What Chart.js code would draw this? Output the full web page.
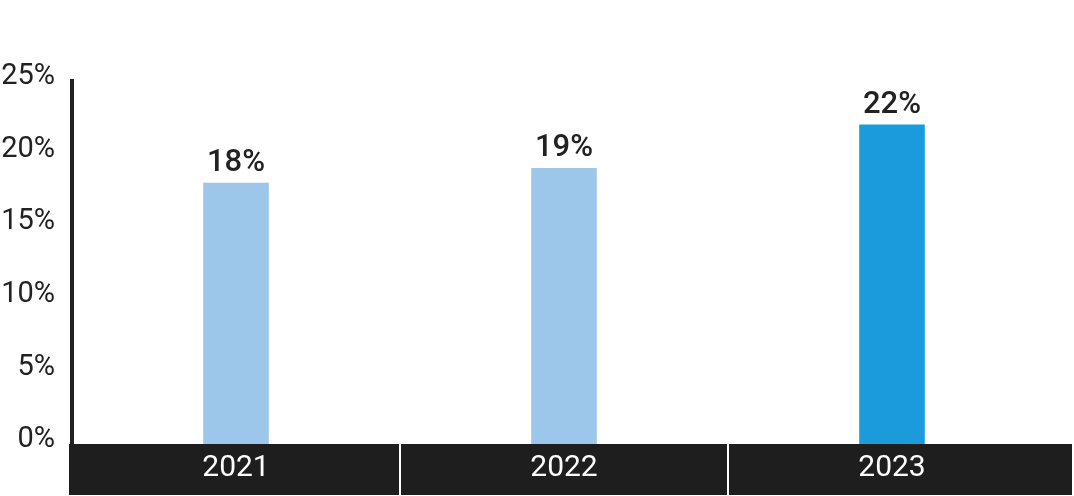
<!DOCTYPE html>
<html>

    <head>
        <title>Share by year</title>
        <script src="https://cdn.jsdelivr.net/npm/chart.js@4.4.1/dist/chart.umd.min.js"></script>
        <style>
            body { margin: 0; background: #ffffff; }
            #wrap { width: 1074px; height: 496px; }
        </style>
    </head>

    <body>
        <div id="wrap">
            <canvas id="myChart" width="1074" height="496"></canvas>
        </div>

        <script>
            // chart values
            const years = ['2021', '2022', '2023'];
            const shares = [18, 19, 22];
            const yMin = 0;
            const yMax = 25;
            const yStep = 5;

            const lightBlue = '#9dc7ea';
            const darkBlue = '#1c9bdc';
            const ink = '#222222';
            const bandColor = '#1e1e1e';

            // dark strip behind the year labels, with white dividers
            const yearBand = {
                id: 'yearBand',
                beforeDraw(chart) {
                    const ctx = chart.ctx;
                    const area = chart.chartArea;
                    const x = chart.scales.x;
                    ctx.save();
                    ctx.fillStyle = bandColor;
                    ctx.fillRect(area.left - 3, area.bottom, chart.width - 2 - (area.left - 3), 51);
                    ctx.strokeStyle = '#ffffff';
                    ctx.lineWidth = 2;
                    const half = (x.getPixelForValue(1) - x.getPixelForValue(0)) / 2;
                    for (let i = 0; i < years.length - 1; i++) {
                        const px = x.getPixelForValue(i) + half;
                        ctx.beginPath();
                        ctx.moveTo(px, area.bottom);
                        ctx.lineTo(px, area.bottom + 51);
                        ctx.stroke();
                    }
                    ctx.restore();
                }
            };

            // value labels above bars
            const barLabels = {
                id: 'barLabels',
                afterDatasetsDraw(chart) {
                    const ctx = chart.ctx;
                    const meta = chart.getDatasetMeta(0);
                    ctx.save();
                    ctx.fillStyle = ink;
                    ctx.font = '500 31px Roboto';
                    ctx.textAlign = 'center';
                    ctx.textBaseline = 'alphabetic';
                    meta.data.forEach((bar, i) => {
                        ctx.fillText(shares[i] + '%', bar.x, bar.y - 12);
                    });
                    ctx.restore();
                }
            };

            const ctx = document.getElementById('myChart');
            const myChart = new Chart(ctx, {
                type: 'bar',
                data: {
                    labels: years,
                    datasets: [{
                        data: shares,
                        backgroundColor: [lightBlue, lightBlue, darkBlue],
                        borderWidth: 0,
                        categoryPercentage: 1,
                        barPercentage: 0.2
                    }]
                },
                options: {
                    responsive: false,
                    animation: false,
                    devicePixelRatio: 1,
                    layout: {
                        padding: { top: 81, right: 18, left: 0, bottom: 0 }
                    },
                    plugins: {
                        legend: { display: false },
                        tooltip: { enabled: false }
                    },
                    scales: {
                        y: {
                            min: yMin,
                            max: yMax,
                            grid: { display: false, drawTicks: false },
                            border: { display: true, color: ink, width: 4 },
                            ticks: {
                                stepSize: yStep,
                                padding: 17,
                                labelOffset: -4,
                                color: ink,
                                font: { family: 'Roboto', size: 29 },
                                callback: v => v + '%'
                            },
                            afterFit(scale) { scale.width = 72; }
                        },
                        x: {
                            grid: { display: false, drawTicks: false },
                            border: { display: false },
                            ticks: {
                                padding: 6,
                                color: '#ffffff',
                                font: { family: 'Roboto', size: 30 }
                            },
                            afterFit(scale) { scale.height = 52; }
                        }
                    }
                },
                plugins: [yearBand, barLabels]
            });
        </script>
    </body>

</html>
